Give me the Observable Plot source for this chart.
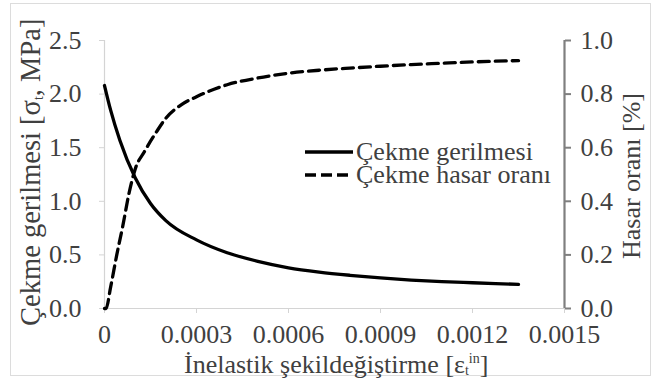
<!DOCTYPE html>
<html>
<head>
<meta charset="utf-8">
<script src="https://cdn.jsdelivr.net/npm/d3@7"></script>
<script src="https://cdn.jsdelivr.net/npm/@observablehq/plot@0.6"></script>
<style>
  html, body { margin: 0; padding: 0; background: #fff; }
  #wrap { position: relative; width: 655px; height: 381px; color: #404040; overflow: hidden; }
  #wrap, #wrap * { font-family: 'Liberation Serif', 'Times New Roman', serif !important; }
  #frame { position: absolute; left: 10px; top: 3px; width: 641px; height: 373px; border: 1.5px solid #dcdcdc; box-sizing: border-box; pointer-events: none; }
  .title { position: absolute; font-size: 26px; white-space: nowrap; line-height: 1; color: #404040; }
  .title sub, .title sup { font-size: 14px; line-height: 0; }
  .title sub { vertical-align: -0.15em; }
  #legend { position: absolute; left: 304px; top: 138px; background: #fff; font-size: 26px; line-height: 23px; color: #404040; padding: 2px 0; }
  #legend .row { display: flex; align-items: center; white-space: nowrap; height: 23px; }
  #legend svg { display: block; margin-right: 2px; }
</style>
</head>
<body>
<div id="wrap">
  <div id="chart"></div>
  <div id="frame"></div>
</div>
<script>
// ---- data ----
const strainStress = [0, 0.00002, 0.00005, 0.0001, 0.00015, 0.0002, 0.0003, 0.0004, 0.0005, 0.0006, 0.0007, 0.0008, 0.0009, 0.001, 0.0011, 0.0012, 0.00135];
const stress       = [2.08, 1.85, 1.57, 1.22, 0.98, 0.82, 0.64, 0.52, 0.44, 0.38, 0.34, 0.31, 0.285, 0.265, 0.25, 0.24, 0.225];
const strainDamage = [0, 0.000005, 0.00002, 0.00004, 0.00006, 0.00008, 0.0001, 0.00013, 0.00017, 0.0002, 0.00025, 0.0003, 0.0004, 0.0005, 0.0006, 0.0007, 0.0008, 0.0009, 0.001, 0.0011, 0.0012, 0.00135];
const damage       = [0, 0.0, 0.08, 0.20, 0.31, 0.43, 0.52, 0.585, 0.66, 0.71, 0.76, 0.79, 0.835, 0.86, 0.878, 0.889, 0.897, 0.904, 0.91, 0.915, 0.92, 0.925];
const xTicks = [0, 0.0003, 0.0006, 0.0009, 0.0012, 0.0015];
const xTickLabels = ["0", "0.0003", "0.0006", "0.0009", "0.0012", "0.0015"];
const yTicks = [0, 0.5, 1.0, 1.5, 2.0, 2.5];
const yTickLabels = ["0.0", "0.5", "1.0", "1.5", "2.0", "2.5"];
const y2Ticks = [0, 0.2, 0.4, 0.6, 0.8, 1.0];
const y2TickLabels = ["0.0", "0.2", "0.4", "0.6", "0.8", "1.0"];
const seriesNames = ["Çekme gerilmesi", "Çekme hasar oranı"];
const yTitle = "Çekme gerilmesi [σ<sub>t</sub>, MPa]";
const y2Title = "Hasar oranı [%]";
const xTitle = "İnelastik şekildeğiştirme [ε<sub>t</sub><sup>in</sup>]";

const yMax = 2.5, y2Max = 1.0, k = yMax / y2Max;
const stressData = strainStress.map((x, i) => ({x, y: stress[i]}));
const damageData = strainDamage.map((x, i) => ({x, y: damage[i] * k}));

const W = 655, H = 381, mL = 104, mR = 91, mT = 40, mB = 73;

const chart = Plot.plot({
  width: W, height: H,
  marginLeft: mL, marginRight: mR, marginTop: mT, marginBottom: mB,
  style: {fontFamily: "Liberation Serif", fontSize: "26px", color: "#404040", background: "transparent", overflow: "visible"},
  x: {domain: [0, 0.0015]},
  y: {domain: [0, yMax]},
  marks: [
    Plot.ruleX([0], {stroke: "#d4d4d4", strokeWidth: 1.2}),
    Plot.ruleY([0], {stroke: "#d4d4d4", strokeWidth: 1.2}),
    Plot.ruleX([0.0015], {stroke: "#7f7f7f", strokeWidth: 2.2}),
    Plot.axisX({ticks: xTicks, tickFormat: (d, i) => xTickLabels[i], tickSize: 5, tickPadding: 11, stroke: "#d4d4d4", fill: "#404040", label: null}),
    Plot.axisY({ticks: yTicks, tickFormat: (d, i) => yTickLabels[i], tickSize: 5, tickPadding: 18, stroke: "#d4d4d4", fill: "#404040", label: null}),
    Plot.axisY({anchor: "right", ticks: y2Ticks.map(d => d * k), tickFormat: (d, i) => y2TickLabels[i], tickSize: 6, tickPadding: 10, stroke: "#7f7f7f", strokeWidth: 2, fill: "#404040", label: null}),
    Plot.line(stressData, {x: "x", y: "y", stroke: "#000", strokeWidth: 3.3, curve: "monotone-x"}),
    Plot.line(damageData, {x: "x", y: "y", stroke: "#000", strokeWidth: 3.3, strokeDasharray: "11,6", curve: "monotone-x"})
  ]
});
chart.querySelectorAll("text").forEach(t => t.setAttribute("font-family", "Liberation Serif"));
document.getElementById("chart").appendChild(chart);

const wrap = document.getElementById("wrap");
function addTitle(html, cx, cy, rot, size) {
  const d = document.createElement("div");
  d.className = "title";
  if (size) d.style.fontSize = size + "px";
  d.innerHTML = html;
  wrap.appendChild(d);
  const w = d.offsetWidth, h = d.offsetHeight;
  d.style.left = (cx - w / 2) + "px";
  d.style.top = (cy - h / 2) + "px";
  if (rot) d.style.transform = `rotate(${rot}deg)`;
}
addTitle(yTitle, 31, 172, -90, 28.5);
addTitle(y2Title, 632, 176, -90, 26);
addTitle(xTitle, 336, 365, 0, 26);

const legend = document.createElement("div");
legend.id = "legend";
seriesNames.forEach((name, i) => {
  const row = document.createElement("div");
  row.className = "row";
  row.innerHTML = `<svg width="50" height="10"><line x1="1" y1="5" x2="49" y2="5" stroke="#000" stroke-width="3.5" ${i === 1 ? 'stroke-dasharray="11,5"' : ''}/></svg><span>${name}</span>`;
  legend.appendChild(row);
});
wrap.appendChild(legend);
</script>
</body>
</html>
